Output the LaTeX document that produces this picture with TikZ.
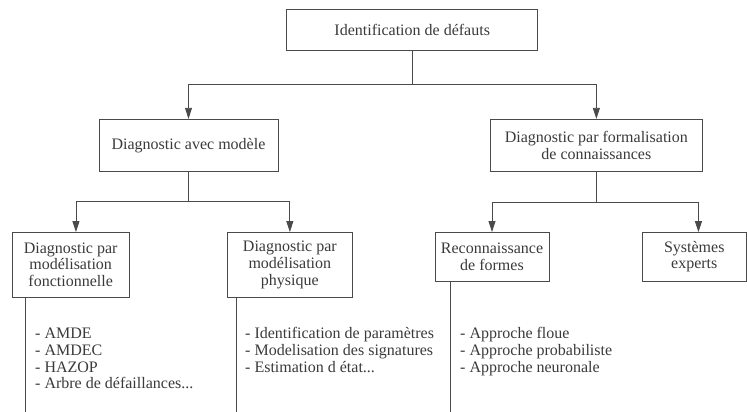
\documentclass[tikz,border=0pt]{standalone}
\usepackage{fontspec}
\setmainfont{Liberation Serif}
\usetikzlibrary{arrows.meta}
\definecolor{ink}{HTML}{3A3A3A}
\definecolor{wire}{HTML}{4A4A4A}
\begin{document}
\begin{tikzpicture}[x=1pt,y=-1pt]
  \useasboundingbox (0,0) rectangle (747,412);

      \begin{scope}[every node/.style={draw=wire, line width=.9pt, inner sep=0pt, align=center,
          text=ink, font=\fontsize{16}{16.7}\selectfont}]
        \node[minimum width=251pt, minimum height=40.7pt] (1) at (412.2,29.7) {Identification de défauts};
        \node[minimum width=179pt, minimum height=52.4pt] (2) at (188.5,145.5) {Diagnostic avec modèle};
        \node[minimum width=212.7pt, minimum height=52.4pt, font=\fontsize{16}{17.7}\selectfont] (3) at (596.35,145.5) {Diagnostic par formalisation\\de connaissances};
        \node[minimum width=116.7pt, minimum height=64.5pt] (4) at (70.65,264.75) {Diagnostic par\\modélisation\\fonctionnelle};
        \node[minimum width=125.7pt, minimum height=64.5pt] (5) at (289.85,264.75) {Diagnostic par\\modélisation\\physique};
        \node[minimum width=114pt, minimum height=48.5pt] (6) at (492,256.75) {Reconnaissance\\de formes};
        \node[minimum width=104.5pt, minimum height=48.5pt] (7) at (694.25,256.75) {Systèmes\\experts};
      \end{scope}

      % lists: base is the last line
      \begin{scope}[every node/.style={anchor=base west, align=left, inner sep=0pt,
          text=ink, font=\fontsize{16}{16.7}\selectfont}]
        \node (8)  at (35,388.7)  {- AMDE\\- AMDEC\\- HAZOP\\- Arbre de défaillances...};
        \node (9)  at (245,372) {- Identification de paramètres\\- Modelisation des signatures\\- Estimation d état...};
        \node (10) at (460,372) {- Approche floue\\- Approche probabiliste\\- Approche neuronale};
      \end{scope}

      \begin{scope}[color=wire, line width=.8pt, >={Triangle[length=11pt,width=7pt]}]
        \coordinate (a) at (412.2,84);
        \coordinate (b) at (188.5,201.5);
        \coordinate (c) at (596.35,202.5);
        \coordinate (e4) at (25.3,412);
        \coordinate (e5) at (236,412);
        \coordinate (e6) at (450,412);

        \draw (1.south) -- (a);
        \draw[->] (a) -| (2);
        \draw[->] (a) -| (3);
        \draw (2.south) -- (b);
        \draw[->] (b) -| ([xshift=5.3pt]4.north);
        \draw[->] (b) -| (5);
        \draw (3.south) -- (c);
        \draw[->] (c) -| (6);
        \draw[->] (c) -| ([xshift=4.2pt]7.north);
        \draw (4.south -| e4) -- (e4);
        \draw (5.south -| e5) -- (e5);
        \draw (6.south -| e6) -- (e6);
      \end{scope}

    \end{tikzpicture}
\end{document}
